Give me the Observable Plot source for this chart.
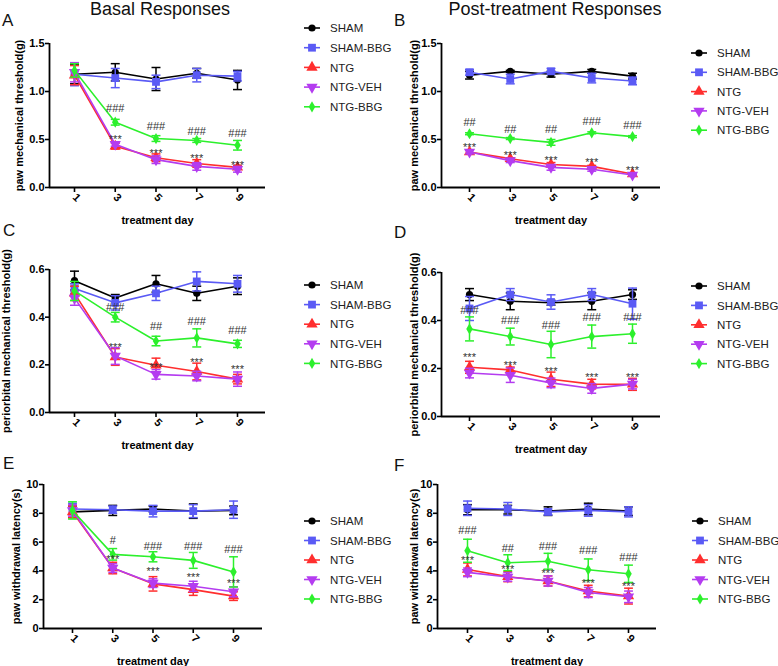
<!DOCTYPE html>
<html><head><meta charset="utf-8">
<script src="https://cdn.jsdelivr.net/npm/d3@7"></script>
<script src="https://cdn.jsdelivr.net/npm/@observablehq/plot@0.6"></script>
<style>
body{margin:0;background:#fff;}
#fig{position:relative;width:778px;height:666px;overflow:hidden;background:#fff;font-family:"Liberation Sans",Arial,sans-serif;}
.abs{position:absolute;white-space:nowrap;}
.title{font-size:18px;color:#111;line-height:18px;}
.letter{font-size:17px;color:#111;line-height:17px;}
</style></head><body><div id="fig"></div>
<script>
// ---------- data ----------
const days = [1, 3, 5, 7, 9];
const groups = ["SHAM", "SHAM-BBG", "NTG", "NTG-VEH", "NTG-BBG"];
const colors = ["#000000", "#5a5af5", "#ff2e2e", "#b43cf0", "#2cf02c"];

// Panel A: Basal, paw mechanical threshold (g)
const meanA = [[1.18,1.20,1.13,1.19,1.12],[1.18,1.14,1.10,1.17,1.16],[1.17,0.43,0.31,0.25,0.21],[1.20,0.45,0.29,0.22,0.19],[1.22,0.68,0.51,0.49,0.44]];
const errA  = [[0.10,0.09,0.12,0.05,0.10],[0.12,0.10,0.07,0.07,0.05],[0.10,0.03,0.04,0.04,0.02],[0.10,0.02,0.04,0.04,0.03],[0.07,0.03,0.03,0.02,0.05]];
const hashTextA = ["", "###", "###", "###", "###"];
const hashYA = [null, 0.82, 0.635, 0.585, 0.56];
const starYA = [null, 0.53, 0.39, 0.33, 0.26];

// Panel B: Post-treatment, paw mechanical threshold (g)
const meanB = [[1.17,1.21,1.18,1.21,1.16],[1.20,1.13,1.21,1.14,1.11],[0.37,0.30,0.24,0.22,0.14],[0.37,0.28,0.21,0.19,0.13],[0.56,0.51,0.47,0.57,0.53]];
const errB  = [[0.04,0.01,0.03,0.02,0.03],[0.03,0.05,0.03,0.05,0.04],[0.02,0.01,0.02,0.01,0.01],[0.02,0.02,0.03,0.02,0.01],[0.01,0.01,0.03,0.01,0.01]];
const hashTextB = ["##", "##", "##", "###", "###"];
const hashYB = [0.68, 0.60, 0.60, 0.69, 0.645];
const starYB = [0.45, 0.37, 0.31, 0.29, 0.21];

// Panel C: Basal, periorbital mechanical threshold (g)
const meanC = [[0.553,0.48,0.54,0.50,0.53],[0.52,0.46,0.50,0.55,0.54],[0.50,0.233,0.198,0.172,0.14],[0.48,0.237,0.16,0.153,0.14],[0.51,0.40,0.30,0.313,0.288]];
const errC  = [[0.04,0.015,0.035,0.03,0.035],[0.02,0.03,0.03,0.04,0.035],[0.03,0.035,0.03,0.035,0.02],[0.03,0.035,0.02,0.02,0.03],[0.04,0.02,0.02,0.038,0.015]];
const hashTextC = ["", "###", "##", "###", "###"];
const hashYC = [null, 0.44, 0.363, 0.38, 0.345];
const starYC = [null, 0.285, 0.20, 0.223, 0.195];

// Panel D: Post-treatment, periorbital mechanical threshold (g)
const meanD = [[0.508,0.48,0.474,0.48,0.508],[0.45,0.508,0.477,0.508,0.47],[0.205,0.194,0.155,0.135,0.134],[0.181,0.172,0.14,0.117,0.135],[0.365,0.333,0.30,0.333,0.345]];
const errD  = [[0.025,0.035,0.01,0.035,0.02],[0.05,0.025,0.03,0.025,0.065],[0.025,0.012,0.03,0.02,0.025],[0.02,0.03,0.02,0.02,0.02],[0.05,0.035,0.055,0.048,0.04]];
const hashTextD = ["###", "###", "###", "###", "###"];
const hashYD = [0.44, 0.40, 0.38, 0.412, 0.414];
const starYD = [0.258, 0.226, 0.20, 0.177, 0.177];

// Panel E: Basal, paw withdrawal latency (s)
const meanE = [[8.1,8.2,8.3,8.15,8.2],[8.3,8.25,8.15,8.15,8.25],[8.1,4.2,3.1,2.7,2.25],[8.2,4.2,3.15,2.93,2.55],[8.2,5.15,4.98,4.73,3.93]];
const errE  = [[0.4,0.35,0.2,0.5,0.3],[0.4,0.25,0.4,0.45,0.6],[0.4,0.4,0.5,0.4,0.3],[0.4,0.3,0.3,0.35,0.35],[0.6,0.4,0.35,0.55,1.05]];
const hashTextE = ["", "#", "###", "###", "###"];
const hashYE = [null, 6.1, 5.7, 5.7, 5.5];
const starYE = [null, 5.0, 4.2, 3.76, 3.35];

// Panel F: Post-treatment, paw withdrawal latency (s)
const meanF = [[8.25,8.25,8.15,8.3,8.15],[8.35,8.3,8.1,8.2,8.1],[4.1,3.6,3.3,2.6,2.25],[3.9,3.58,3.3,2.5,2.2],[5.4,4.57,4.67,4.08,3.8]];
const errF  = [[0.35,0.3,0.3,0.4,0.3],[0.5,0.45,0.2,0.4,0.35],[0.45,0.35,0.35,0.4,0.55],[0.3,0.3,0.35,0.35,0.4],[0.8,0.55,0.55,0.75,0.6]];
const hashTextF = ["###", "##", "###", "###", "###"];
const hashYF = [6.8, 5.55, 5.7, 5.4, 4.95];
const starYF = [4.9, 4.3, 4.05, 3.35, 3.1];

const yTicksMech = [0, 0.5, 1.0, 1.5];
const yTicksPeri = [0, 0.2, 0.4, 0.6];
const yTicksLat = [0, 2, 4, 6, 8, 10];
const labelMech = "paw mechanical threshold(g)";
const labelPeri = "periorbital mechanical threshold(g)";
const labelLat = "paw withdrawal latency(s)";
const xLabel = "treatment day";
const titles = ["Basal Responses", "Post-treatment Responses"];

// ---------- symbols ----------
const triDown = {
  draw(ctx, size) {
    const y = -Math.sqrt(size / (3 * Math.sqrt(3)));
    ctx.moveTo(0, -y * 2);
    ctx.lineTo(-Math.sqrt(3) * y, y);
    ctx.lineTo(Math.sqrt(3) * y, y);
    ctx.closePath();
  }
};
const symbols = [d3.symbolCircle, d3.symbolSquare, d3.symbolTriangle, triDown, d3.symbolDiamond];
const radii = [3.6, 4.4, 4.2, 4.2, 3.4];

// ---------- layout (page pixels) ----------
const layout = {
  A: {left: 0,   top: 0,   w: 280, h: 228, a0: 49,  a1: 265, t1: 74,  t9: 237, yT: 43,  yB: 187, lab: 34, leg: [330, 28, 19.7]},
  B: {left: 390, top: 0,   w: 280, h: 228, a0: 441, a1: 660, t1: 469, t9: 632, yT: 43,  yB: 187, lab: 31, leg: [717, 53, 19.3]},
  C: {left: 0,   top: 228, w: 280, h: 218, a0: 49,  a1: 265, t1: 74,  t9: 237, yT: 269, yB: 412, lab: 47, leg: [330, 285, 19.6]},
  D: {left: 390, top: 228, w: 280, h: 218, a0: 441, a1: 660, t1: 469, t9: 632, yT: 272, yB: 416, lab: 31, leg: [717, 286, 19.4]},
  E: {left: 0,   top: 446, w: 280, h: 220, a0: 43,  a1: 262, t1: 72,  t9: 233, yT: 484, yB: 628, lab: 31, leg: [330, 521, 19.5]},
  F: {left: 390, top: 446, w: 280, h: 220, a0: 437, a1: 656, t1: 467, t9: 628, yT: 484, yB: 628, lab: 27, leg: [718, 521, 19.5]}
};

const fig = document.getElementById("fig");

function panel(key, means, errs, hashText, hashY, starY, yTicks, yFmt, yLabel) {
  const L = layout[key];
  const rows = [];
  groups.forEach((g, i) => days.forEach((d, j) => rows.push({day: d, group: g, gi: i, mean: means[i][j], err: errs[i][j]})));
  const hashRows = days.map((d, j) => ({day: d, y: hashY[j], t: hashText[j]})).filter(r => r.y != null);
  const starRows = days.map((d, j) => ({day: d, y: starY[j], t: "***"})).filter(r => r.y != null);
  const s = (L.t9 - L.t1) / 8;
  const lo = 1 - (L.t1 - L.a0) / s, hi = 9 + (L.a1 - L.t9) / s;
  const cap = 0.22;
  const marks = [
    Plot.axisY(yTicks, {tickFormat: yFmt, tickSize: 4, tickPadding: 1, strokeWidth: 1.6, label: yLabel, labelAnchor: "center", labelOffset: L.lab, labelArrow: "none"}),
    Plot.axisX(days, {tickFormat: d => String(d), tickSize: 5, tickPadding: 3, strokeWidth: 1.6, tickRotate: 45, label: xLabel, labelAnchor: "center", labelOffset: 36, labelArrow: "none"}),
    Plot.ruleX([lo], {strokeWidth: 1.8, stroke: "#000"}),
    Plot.ruleY([0], {strokeWidth: 1.8, stroke: "#000"})
  ];
  groups.forEach((g, i) => {
    const data = rows.filter(r => r.gi === i);
    const c = colors[i];
    marks.push(
      Plot.ruleX(data, {x: "day", y1: d => d.mean - d.err, y2: d => d.mean + d.err, stroke: c, strokeWidth: 1.5}),
      Plot.link(data, {x1: d => d.day - cap, x2: d => d.day + cap, y1: d => d.mean + d.err, y2: d => d.mean + d.err, stroke: c, strokeWidth: 1.5}),
      Plot.link(data, {x1: d => d.day - cap, x2: d => d.day + cap, y1: d => d.mean - d.err, y2: d => d.mean - d.err, stroke: c, strokeWidth: 1.5}),
      Plot.line(data, {x: "day", y: "mean", stroke: c, strokeWidth: 1.6}),
      Plot.dot(data, {x: "day", y: "mean", symbol: symbols[i], r: radii[i], fill: c, stroke: "none"})
    );
  });
  marks.push(
    Plot.text(hashRows, {x: "day", y: "y", text: "t", fontSize: 11, fontWeight: "normal", fill: "#333"}),
    Plot.text(starRows, {x: "day", y: "y", text: "t", fontSize: 11, fontWeight: "normal", fill: "#333", dy: 3})
  );
  const chart = Plot.plot({
    width: L.w, height: L.h,
    marginLeft: L.a0 - L.left, marginRight: L.left + L.w - L.a1,
    marginTop: L.yT - L.top, marginBottom: L.top + L.h - L.yB,
    x: {domain: [lo, hi]},
    y: {domain: [0, yTicks[yTicks.length - 1]]},
    style: {fontFamily: "'Liberation Sans', Arial, sans-serif", fontSize: "11px", fontWeight: "bold", color: "#000", background: "transparent", overflow: "visible"},
    marks
  });
  chart.style.position = "absolute";
  chart.style.left = L.left + "px";
  chart.style.top = L.top + "px";
  fig.appendChild(chart);

  // legend
  const [tx, ty, dy] = L.leg;
  const lg = d3.create("svg").attr("width", 100).attr("height", 110)
    .style("position", "absolute").style("left", (tx - 30) + "px").style("top", (ty - 10) + "px").style("overflow", "visible");
  groups.forEach((g, i) => {
    const yy = 10 + i * dy;
    lg.append("line").attr("x1", 4).attr("x2", 20).attr("y1", yy).attr("y2", yy).attr("stroke", colors[i]).attr("stroke-width", 1.6);
    const sz = Math.PI * radii[i] * radii[i];
    lg.append("path").attr("d", d3.symbol(symbols[i], sz)()).attr("transform", `translate(12,${yy})`).attr("fill", colors[i]);
    lg.append("text").attr("x", 30).attr("y", yy).attr("dy", "0.36em").attr("font-size", 11.5)
      .attr("font-family", "'Liberation Sans', Arial, sans-serif").attr("fill", "#222").text(g);
  });
  fig.appendChild(lg.node());

  const letter = document.createElement("div");
  letter.className = "abs letter";
  letter.textContent = key;
  fig.appendChild(letter);
  return letter;
}

const lA = panel("A", meanA, errA, hashTextA, hashYA, starYA, yTicksMech, d3.format(".1f"), labelMech);
const lB = panel("B", meanB, errB, hashTextB, hashYB, starYB, yTicksMech, d3.format(".1f"), labelMech);
const lC = panel("C", meanC, errC, hashTextC, hashYC, starYC, yTicksPeri, d3.format(".1f"), labelPeri);
const lD = panel("D", meanD, errD, hashTextD, hashYD, starYD, yTicksPeri, d3.format(".1f"), labelPeri);
const lE = panel("E", meanE, errE, hashTextE, hashYE, starYE, yTicksLat, d3.format("d"), labelLat);
const lF = panel("F", meanF, errF, hashTextF, hashYF, starYF, yTicksLat, d3.format("d"), labelLat);
[[lA, 2, 12], [lB, 394, 12], [lC, 3, 222], [lD, 394, 224], [lE, 3, 455], [lF, 394, 457]].forEach(([el, x, y]) => {
  el.style.left = x + "px"; el.style.top = y + "px";
});

titles.forEach((t, i) => {
  const el = document.createElement("div");
  el.className = "abs title";
  el.textContent = t;
  el.style.top = "0px";
  el.style.left = (i === 0 ? 160 : 555) + "px";
  el.style.transform = "translateX(-50%)";
  fig.appendChild(el);
});
</script>
</body></html>
